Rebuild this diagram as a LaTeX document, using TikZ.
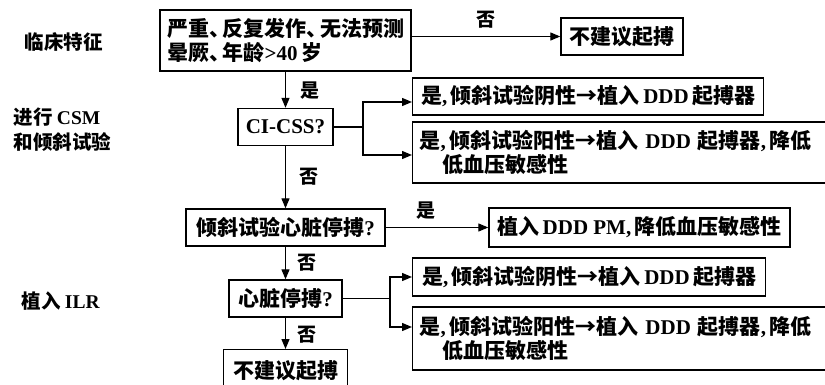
\documentclass[tikz,border=0pt]{standalone}
\usepackage{fontspec}
\setmainfont{Noto Sans CJK SC}
\newfontfamily\latf{Liberation Serif}
\newcommand\lt[1]{{\latf\bfseries #1}}
\newcommand\dun{\makebox[0.65em][l]{、}}
\usetikzlibrary{arrows.meta}
\begin{document}
\begin{tikzpicture}[x=1pt,y=-1pt,
 box/.style={draw,line width=1.4pt,inner xsep=7pt,inner ysep=0pt,minimum height=37pt,font=\fontsize{21}{23.5}\selectfont\bfseries},
 arr/.style={line width=1.3pt,-{Triangle[length=10pt,width=8pt]}},
 ln/.style={line width=1.3pt},
 lab/.style={font=\fontsize{19}{23}\selectfont\bfseries},
 side/.style={font=\fontsize{19.5}{25}\selectfont\bfseries,align=left,anchor=west}]
\useasboundingbox (0,0) rectangle (825,385);
\clip (0,0) rectangle (825,385);
\fill[white] (0,0) rectangle (825,385);

% side labels
\node[side] (s1) at (21,42) {临床特征};
\node[side] (s2) at (10,130) {进行 \lt{CSM}\\和倾斜试验};
\node[side] (s3) at (18,301) {植入 \lt{ILR}};

% boxes
\node[box,minimum height=61pt,text width=237pt,align=left] (b1) at (285.5,40.5)
  {严重\dun 反复发作\dun 无法预测\\晕厥\dun 年龄\lt{>40}\,岁};
\node[box,minimum width=122pt] (no1) at (622,36.5) {不建议起搏};
\node[box,minimum width=95pt] (ci) at (285.5,127) {\lt{CI-CSS?}};
\node[box,minimum width=351pt,anchor=west] (r1) at (412,96.5) {是\lt{,}\,倾斜试验阴性→植入\,\lt{DDD}\,起搏器};
\node[box,minimum height=61pt,text width=405pt,align=left,anchor=west] (r2) at (412,152.5)
  {是\lt{,}\,倾斜试验阳性→植入 \lt{DDD} 起搏器\lt{,}\,降低\\\hspace*{1.1em}低血压敏感性};
\node[box,minimum width=199pt] (tilt) at (285.5,227.5) {倾斜试验心脏停搏\lt{?}};
\node[box,minimum width=301pt,minimum height=39pt] (pm) at (639.5,227.5) {植入\,\lt{DDD PM,}\,降低血压敏感性};
\node[box,minimum width=113pt] (heart) at (285.5,298.5) {心脏停搏\lt{?}};
\node[box,minimum width=353pt,minimum height=38pt,anchor=west] (r3) at (412,277) {是\lt{,}\,倾斜试验阴性→植入\,\lt{DDD}\,起搏器};
\node[box,minimum height=63pt,text width=405pt,align=left,anchor=west] (r4) at (412,338.5)
  {是\lt{,}\,倾斜试验阳性→植入 \lt{DDD} 起搏器\lt{,}\,降低\\\hspace*{1.1em}低血压敏感性};
\node[box,minimum width=124pt,minimum height=42pt,anchor=north] (no2) at (285.5,349) {不建议起搏};

% connectors
\coordinate (j1) at (363,127);
\coordinate (j2) at (390,298.5);
\draw[arr] (b1.east |- no1.west) -- (no1.west);
\draw[arr] (b1.south) -- (ci.north);
\draw[ln] (ci.east) -- (j1);
\draw[arr] (j1) |- ([yshift=-5.5pt]r1.west);
\draw[arr] (j1) |- ([yshift=-2.5pt]r2.west);
\draw[arr] (ci.south) -- (tilt.north);
\draw[arr] (tilt.east) -- (pm.west);
\draw[arr] (tilt.south) -- (heart.north);
\draw[ln] (heart.east) -- (j2);
\draw[arr] (j2) |- (r3.west);
\draw[arr] (j2) |- ([yshift=11.5pt]r4.west);
\draw[arr] (heart.south) -- (no2.north);

% labels
\node[lab] (l1) at (486,20) {否};
\node[lab] (l2) at (310,91) {是};
\node[lab] (l3) at (309,177) {否};
\node[lab] (l4) at (426,211) {是};
\node[lab] (l5) at (307,263) {否};
\node[lab] (l6) at (307,335) {否};
\end{tikzpicture}
\end{document}
